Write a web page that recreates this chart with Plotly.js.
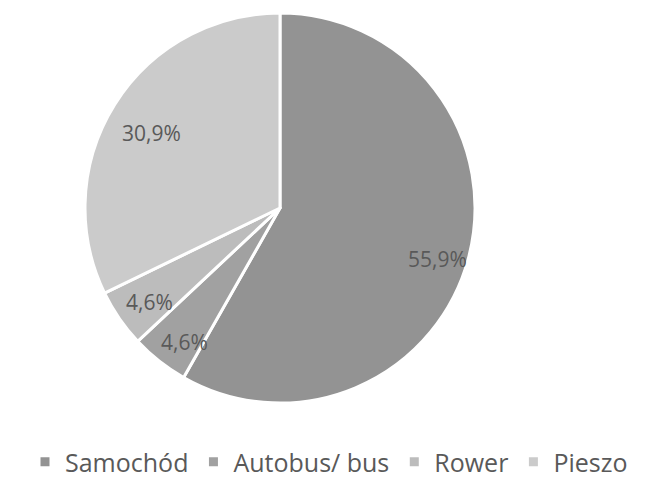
<!DOCTYPE html>
<html>
<head>
<meta charset="utf-8">
<script src="https://cdn.plot.ly/plotly-3.0.1.min.js"></script>
<style>html,body{margin:0;padding:0;background:#fff;}#chart{width:658px;height:477px;}</style>
</head>
<body>
<div id="chart"></div>
<script>
const categories = ["Samochód", "Autobus/ bus", "Rower", "Pieszo"];
const values = [55.9, 4.6, 4.6, 30.9];
const labelsText = ["55,9%", "4,6%", "4,6%", "30,9%"];
const colors = ["#939393", "#a1a1a1", "#bcbcbc", "#cbcbcb"];

const W = 658, H = 477;
const dom = {x: [85 / W, 475 / W], y: [1 - 403 / H, 1 - 13 / H]};

// label positions computed from the values (clockwise from 12 o'clock)
const total = values.reduce((a, b) => a + b, 0);
const cx = (dom.x[0] + dom.x[1]) / 2 * W;
const cy = (1 - (dom.y[0] + dom.y[1]) / 2) * H;
const R = Math.min((dom.x[1] - dom.x[0]) * W, (dom.y[1] - dom.y[0]) * H) / 2;
const radFrac = [0.846, 0.834, 0.817, 0.77];
const angAdj = [2.4, -2.5, -0.8, -1.2];
let acc = 0;
const annotations = values.map((v, i) => {
  const mid = (acc + v / 2) / total * 2 * Math.PI + angAdj[i] * Math.PI / 180;
  acc += v;
  const px = cx + Math.sin(mid) * R * radFrac[i];
  const py = cy - Math.cos(mid) * R * radFrac[i];
  return {
    x: px / W, y: 1 - py / H, xref: "paper", yref: "paper",
    xanchor: "center", yanchor: "middle", yshift: -2,
    text: labelsText[i], showarrow: false,
    font: {family: "Open Sans, sans-serif", size: 21, color: "#595959"}
  };
});

const trace = {
  type: "pie",
  labels: categories,
  values: values,
  sort: false,
  direction: "clockwise",
  rotation: 0,
  textinfo: "none",
  hoverinfo: "label+percent",
  marker: {colors: colors, line: {color: "#ffffff", width: 3}},
  domain: dom
};

const layout = {
  width: W, height: H,
  margin: {l: 0, r: 0, t: 0, b: 0, autoexpand: false},
  paper_bgcolor: "#ffffff",
  showlegend: true,
  legend: {
    orientation: "h", x: 0.5, xanchor: "center", y: 1 - 462 / H, yanchor: "middle",
    font: {family: "Open Sans, sans-serif", size: 25, color: "#595959"},
    itemwidth: 30
  },
  annotations: annotations
};

Plotly.newPlot("chart", [trace], layout, {displayModeBar: false, staticPlot: true});
</script>
</body>
</html>
